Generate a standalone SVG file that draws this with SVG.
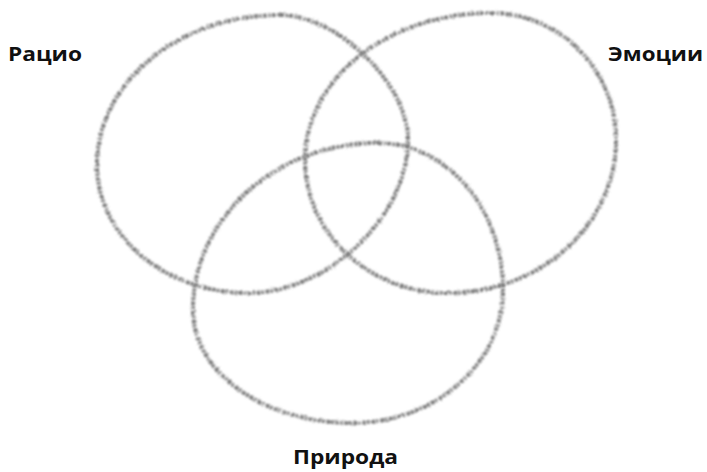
<svg xmlns="http://www.w3.org/2000/svg" width="707" height="472" viewBox="0 0 707 472">
<defs>
<filter id="pencil" x="-10%" y="-10%" width="120%" height="120%">
<feTurbulence type="fractalNoise" baseFrequency="0.7" numOctaves="2" seed="3" result="n"/>
<feDisplacementMap in="SourceGraphic" in2="n" scale="3.5" xChannelSelector="R" yChannelSelector="G" result="d"/>
<feGaussianBlur in="d" stdDeviation="0.9"/>
</filter>
</defs>
<style>
.ring{fill:none;stroke:#7d7d7d;stroke-width:4;stroke-dasharray:4 1.5 2.5 1;filter:url(#pencil)}
.lbl{font-family:"Open Sans","Noto Sans","Liberation Sans",sans-serif;font-weight:700;font-size:19px;fill:#111}
</style>
<rect width="707" height="472" fill="#ffffff"/>
<g id="connectors"></g>
<g id="ratio">
<path class="ring" d="M280,15 C337.6,15 408,83.8 408,140 C408,216.5 328,293 248,293 C164.6,293 97,235.7 97,165 C97,82.2 178.9,15 280,15 Z"/>
<text class="lbl" x="8" y="61" textLength="74" lengthAdjust="spacingAndGlyphs">Рацио</text>
</g>
<g id="emotions">
<path class="ring" d="M491,13 C560,13 616,69.9 616,140 C616,224.5 540.8,293 448,293 C369,293 305,233.5 305,160 C305,78.8 388.3,13 491,13 Z"/>
<text class="lbl" x="608" y="61" textLength="95" lengthAdjust="spacingAndGlyphs">Эмоции</text>
</g>
<g id="nature">
<path class="ring" d="M378,143 C447,143 503,208.8 503,290 C503,363.4 435.6,423 352,423 C263.6,423 193,372.4 193,310 C193,217.8 275.8,143 378,143 Z"/>
<text class="lbl" x="293" y="464" textLength="105" lengthAdjust="spacingAndGlyphs" style="font-size:20px">Природа</text>
</g>
</svg>
